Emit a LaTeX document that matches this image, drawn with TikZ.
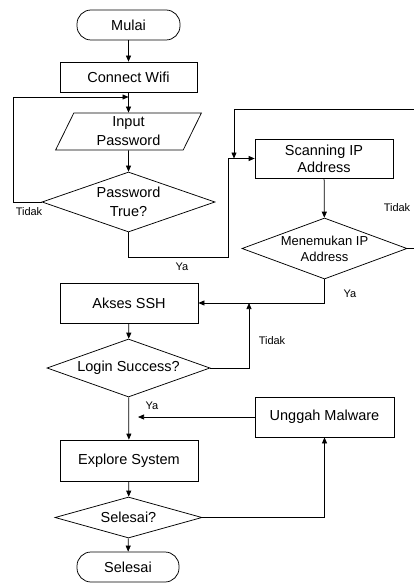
\documentclass[tikz,border=0pt]{standalone}
\usepackage{fontspec}
\setmainfont{Liberation Sans}
\usepackage{tikz}
\usetikzlibrary{shapes.geometric, arrows.meta}

\tikzset{
  base/.style={draw, line width=0.75pt, font=\fontsize{14.5}{19}\selectfont, align=center},
  terminal/.style={base, rounded corners=14pt, minimum width=103pt, minimum height=30pt},
  process/.style={base, rectangle, minimum width=138pt, minimum height=40pt},
  io/.style={base, trapezium, trapezium left angle=70, trapezium right angle=110, trapezium stretches=true, minimum width=147pt, minimum height=37pt, inner sep=0pt},
  decision/.style={base, diamond, inner sep=0pt},
  lbl/.style={font=\fontsize{11}{13}\selectfont},
  arr/.style={line width=0.75pt, -{Triangle[length=6pt,width=5pt]}}
}

\begin{document}
\begin{tikzpicture}[x=1pt,y=-1pt]
\useasboundingbox (0,0) rectangle (413,583);

\node[terminal] (start) at (128.5,25) {Mulai};
\node[process, minimum height=30pt, minimum width=137pt] (wifi) at (128.5,77) {Connect Wifi};
\node[io] (inpw) at (128.5,131.5) {Input\\Password};
\node[decision, minimum width=173pt, minimum height=60pt, label={[align=center, font=\fontsize{14.5}{19}\selectfont]center:Password\\True?}] (pwok) at (128.5,202) {};
\node[process, minimum height=39pt, font=\fontsize{14.5}{17}\selectfont] (scan) at (324,158.5) {Scanning IP\\Address};
\node[decision, minimum width=165pt, minimum height=61pt, label={[align=center, font=\fontsize{13}{16}\selectfont]center:Menemukan IP\\Address}] (found) at (324.5,248.5) {};
\node[process] (ssh) at (129,303) {Akses SSH};
\node[decision, minimum width=163pt, minimum height=58pt, label={[font=\fontsize{14.5}{19}\selectfont]center:Login Success?}] (login) at (128.5,368) {};
\node[process, minimum width=139pt] (upload) at (324.5,417) {Unggah Malware};
\node[process, minimum height=41pt] (explore) at (129,460.5) {Explore System};
\node[decision, minimum width=147pt, minimum height=41pt, label={[font=\fontsize{14.5}{19}\selectfont]center:Selesai?}] (done) at (128.5,517.5) {};
\node[terminal, minimum width=102pt] (stop) at (128,567) {Selesai};

\coordinate (loopA) at (13,97);
\coordinate (joinA) at (228,257);
\coordinate (loopB) at (416,109);
\coordinate (loopC) at (234,109);
\coordinate (joinC) at (249,303);
\coordinate (endU) at (138,417);

\draw[arr] (start) -- (wifi);
\draw[arr] (wifi) -- (inpw);
\draw[arr] (inpw) -- (pwok);
\draw[arr] (pwok.west) -| (loopA) -- (loopA -| wifi.south);
\draw[arr] (pwok.south) |- (joinA) |- (scan.west);
\draw[arr] (scan) -- (found);
\draw[arr] (found.east) -| (loopB) -- (loopC) -- (loopC |- scan.west);
\draw[arr] (found.south) |- (ssh.east);
\draw[arr] (ssh) -- (login);
\draw[arr] (login.east) -| (joinC);
\draw[arr] (login) -- (explore);
\draw[arr] (upload.west) -- (endU);
\draw[arr] (explore) -- (done);
\draw[arr] (done.east) -| (upload.south);
\draw[arr] (done) -- (stop);

\node[lbl] (t1) at (29,212) {Tidak};
\node[lbl] (y1) at (182,267) {Ya};
\node[lbl] (t2) at (397,208) {Tidak};
\node[lbl] (y2) at (350,294) {Ya};
\node[lbl] (t3) at (272,341) {Tidak};
\node[lbl] (y3) at (152,406) {Ya};
\end{tikzpicture}
\end{document}
